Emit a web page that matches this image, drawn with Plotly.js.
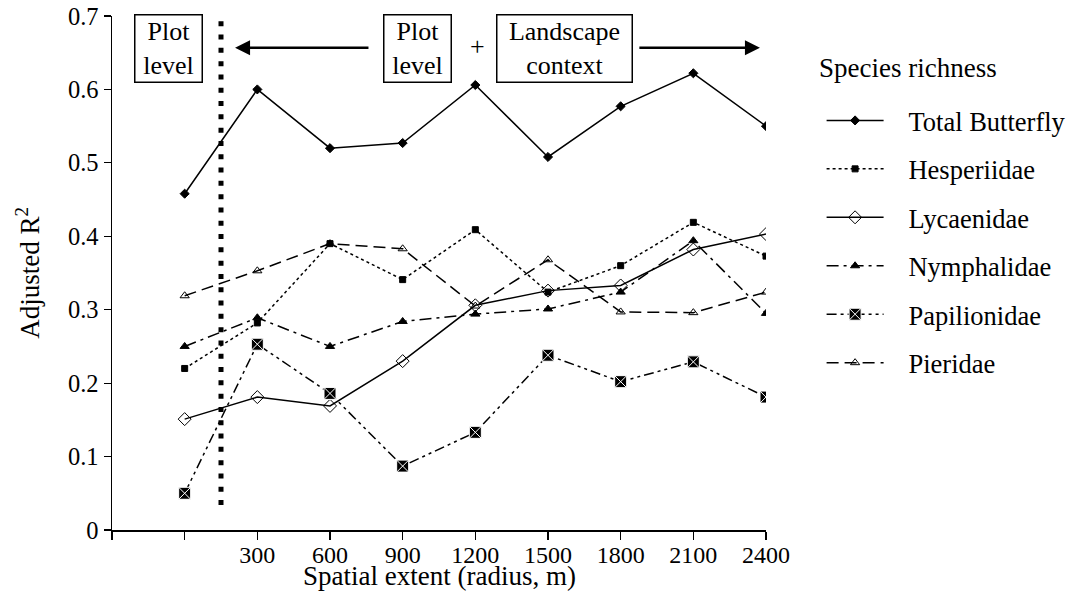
<!DOCTYPE html>
<html>
<head>
<meta charset="utf-8">
<script src="https://cdn.plot.ly/plotly-3.0.1.min.js"></script>
<style>html,body{margin:0;padding:0;background:#fff;}#chart{width:1086px;height:593px;}</style>
</head>
<body>
<div id="chart"></div>
<script>
// Spatial extent (radius, m); 0 = plot level only
const radius = [0, 300, 600, 900, 1200, 1500, 1800, 2100, 2400];
const tickVals = [-300, 0, 300, 600, 900, 1200, 1500, 1800, 2100, 2400];
const tickText = ["", "", "300", "600", "900", "1200", "1500", "1800", "2100", "2400"];
const yTickVals = [0, 0.1, 0.2, 0.3, 0.4, 0.5, 0.6, 0.7];
const yTickText = ["0", "0.1", "0.2", "0.3", "0.4", "0.5", "0.6", "0.7"];

const totalButterfly = [0.458, 0.600, 0.520, 0.527, 0.606, 0.508, 0.577, 0.622, 0.550];
const hesperiidae    = [0.220, 0.282, 0.390, 0.341, 0.409, 0.324, 0.360, 0.419, 0.373];
const lycaenidae     = [0.151, 0.181, 0.169, 0.230, 0.306, 0.326, 0.333, 0.382, 0.403];
const nymphalidae    = [0.250, 0.289, 0.250, 0.284, 0.294, 0.301, 0.324, 0.394, 0.295];
const papilionidae   = [0.050, 0.253, 0.186, 0.087, 0.133, 0.238, 0.202, 0.229, 0.181];
const pieridae       = [0.319, 0.353, 0.390, 0.383, 0.305, 0.368, 0.297, 0.296, 0.324];

const FONT = "Liberation Serif, Times New Roman, serif";
const SP = "\u00a0\u00a0\u00a0";

function tr(name, y, dash, symbol, size, extra) {
  return {
    x: radius, y: y, name: name, type: "scatter", mode: "lines+markers",
    legendgroup: name,
    line: {color: "#000", width: 1.5, dash: dash},
    marker: Object.assign({symbol: symbol, size: size, color: "#000", line: {color: "#000", width: 1}}, extra || {})
  };
}

const data = [
  tr(SP + "Total Butterfly", totalButterfly, "solid", "diamond", 7),
  tr(SP + "Hesperiidae", hesperiidae, "dot", "square", 6),
  tr(SP + "Lycaenidae", lycaenidae, "solid", "diamond-open", 10),
  tr(SP + "Nymphalidae", nymphalidae, "12px,5px,3px,5px", "triangle-up", 8),
  tr(SP + "Papilionidae", papilionidae, "10px,4px,3px,4px,3px,4px", "square-x", 12, {color: "#000", line: {color: "#fff", width: 1}}),
  tr(SP + "Pieridae", pieridae, "12px,6px", "triangle-up-open", 8)
];

const boxFont = {family: FONT, size: 26, color: "#000"};
function box(x, text, w) {
  return {xref: "x", yref: "paper", x: x, y: 0.936, xanchor: "center", yanchor: "middle",
          text: text, showarrow: false, bordercolor: "#000", borderwidth: 1.5, borderpad: 1,
          bgcolor: "#fff", width: w, height: 64, font: boxFont};
}

const layout = {
  width: 1086, height: 593,
  margin: {l: 112, r: 320, t: 16, b: 63},
  paper_bgcolor: "#fff", plot_bgcolor: "#fff",
  font: {family: FONT, size: 25, color: "#000"},
  showlegend: true,
  legend: {
    x: 1.085, xanchor: "left", y: 0.843, yanchor: "top",
    font: {family: FONT, size: 26.5},
    traceorder: "grouped", tracegroupgap: 11,
    itemwidth: 57, bgcolor: "rgba(0,0,0,0)"
  },
  xaxis: {
    range: [-300, 2400], tickmode: "array", tickvals: tickVals, ticktext: tickText,
    showgrid: false, zeroline: false, showline: true, linecolor: "#000", linewidth: 1.5,
    ticks: "outside", ticklen: 8, tickcolor: "#000", tickwidth: 1.2,
    ticklabelstandoff: -5,
    tickfont: {family: FONT, size: 24}
  },
  yaxis: {
    range: [0, 0.7], tickmode: "array", tickvals: yTickVals, ticktext: yTickText,
    showgrid: false, zeroline: false, showline: true, linecolor: "#000", linewidth: 1.5,
    ticks: "outside", ticklen: 7, tickcolor: "#000", tickwidth: 1.2,
    tickfont: {family: FONT, size: 24.5},
    title: {text: "Adjusted R<sup>2</sup>", font: {family: FONT, size: 27}, standoff: 20}
  },
  shapes: [
    {type: "line", xref: "x", yref: "y", x0: 150, x1: 150, y0: 0.034, y1: 0.702,
     line: {color: "#000", width: 5, dash: "5px,8.3px"}}
  ],
  annotations: [
    box(-67, "Plot<br>level", 64),
    box(961, "Plot<br>level", 64),
    {xref: "x", yref: "paper", x: 1207, y: 0.94, xanchor: "center", yanchor: "middle",
     text: "+", showarrow: false, font: boxFont},
    box(1570, "Landscape<br>context", 132),
    {xref: "x", yref: "paper", x: 208, y: 0.938, ax: 765, ay: 0.938, axref: "x", ayref: "paper",
     text: "", showarrow: true, arrowhead: 2, arrowsize: 1.2, arrowwidth: 2.5, arrowcolor: "#000"},
    {xref: "x", yref: "paper", x: 2375, y: 0.938, ax: 1871, ay: 0.938, axref: "x", ayref: "paper",
     text: "", showarrow: true, arrowhead: 2, arrowsize: 1.2, arrowwidth: 2.5, arrowcolor: "#000"},
    {xref: "paper", yref: "paper", x: 1.078, y: 0.898, xanchor: "left", yanchor: "middle",
     text: "Species richness", showarrow: false, font: {family: FONT, size: 27}},
    {xref: "paper", yref: "paper", x: 0.5, y: -0.1226, xanchor: "center", yanchor: "bottom",
     text: "Spatial extent (radius, m)", showarrow: false, font: {family: FONT, size: 27}}
  ]
};

Plotly.newPlot("chart", data, layout, {displayModeBar: false, staticPlot: true});
</script>
</body>
</html>
